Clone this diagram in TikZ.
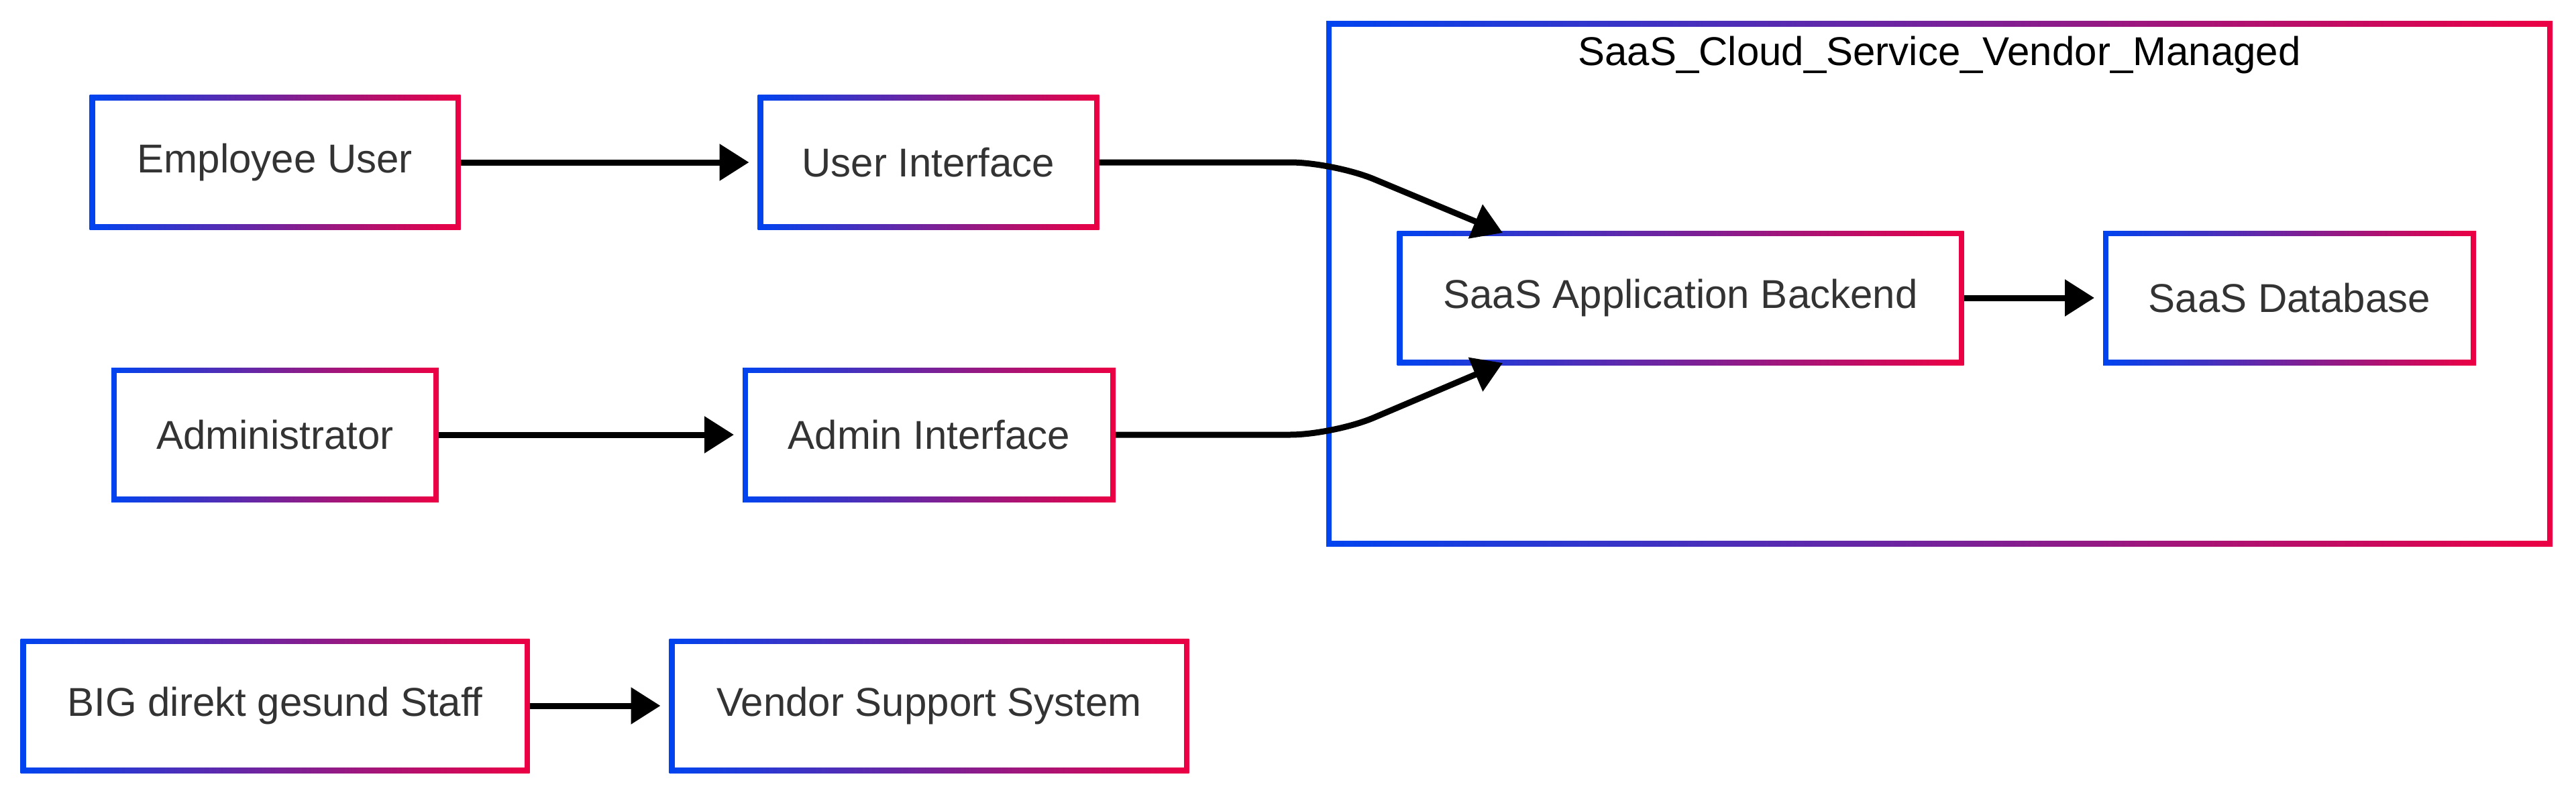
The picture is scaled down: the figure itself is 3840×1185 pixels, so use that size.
\documentclass[tikz,border=0pt]{standalone}
\usepackage{fontspec}
\setmainfont{Liberation Sans}
\usetikzlibrary{arrows.meta}
\definecolor{gblue}{HTML}{0044F0}
\definecolor{gred}{HTML}{EC0044}
\definecolor{txt}{HTML}{333333}
\begin{document}
\begin{tikzpicture}[x=1pt,y=-1pt,font=\fontsize{60pt}{72pt}\selectfont,
	bx/.style={inner sep=0pt,outer sep=0pt,minimum height=200pt,text=txt,
		path picture={
			\shade[left color=gblue,right color=gred] (path picture bounding box.south west) rectangle (path picture bounding box.north east);
			\fill[white] ([shift={(8pt,8pt)}]path picture bounding box.south west) rectangle ([shift={(-8pt,-8pt)}]path picture bounding box.north east);}},
	cl/.style={bx,minimum height=782pt},
	ar/.style={-{Triangle[length=44pt,width=53pt]},line width=9pt,shorten >=13pt}]
	\useasboundingbox (0,0) rectangle (3840,1185);
	% cloud part
	\node[cl,minimum width=1828pt] (saas) at (2891,423) {};
	\node[text=black] (saastitle) at (2891,82) {SaaS\_Cloud\_Service\_Vendor\_Managed};
	\node[bx,minimum width=845pt] (be) at (2505,444) {SaaS Application Backend};
	\node[bx,minimum width=556pt] (db) at (3413,444) {SaaS Database};
	% left side
	\node[bx,minimum width=553pt] (emp) at (410,242) {Employee User};
	\node[bx,minimum width=509pt] (ui) at (1384,242) {User Interface};
	\node[bx,minimum width=488pt] (adm) at (410,648) {Administrator};
	\node[bx,minimum width=556pt] (ai) at (1385,648) {Admin Interface};
	\node[bx,minimum width=759pt] (staff) at (410,1052) {BIG direkt gesund Staff};
	\node[bx,minimum width=775pt] (vss) at (1385,1052) {Vendor Support System};
	\draw[ar] (emp) -- (ui);
	\draw[ar] (adm) -- (ai);
	\draw[ar] (staff) -- (vss);
	\draw[ar] (be) -- (db);
	\draw[ar,shorten >=0pt,rounded corners=65pt] (ui.east) -- (1988,242) -- ([xshift=-265pt,yshift=-3pt]be.north);
	\draw[ar,shorten >=0pt,rounded corners=65pt] (ai.east) -- (1988,648) -- ([xshift=-265pt,yshift=3pt]be.south);
\end{tikzpicture}
\end{document}
